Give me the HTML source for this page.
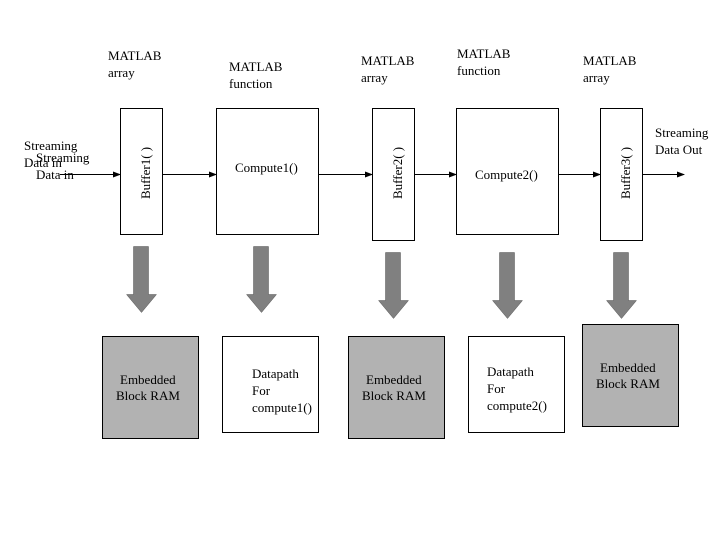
<!DOCTYPE html>
<html><head><style>
body{margin:0;background:#fff}
svg text{font-family:"Liberation Serif",serif;font-size:13px;fill:#000}
</style></head><body>
<svg width="720" height="540" viewBox="0 0 720 540" xmlns="http://www.w3.org/2000/svg">
<defs><marker id="a" markerWidth="8" markerHeight="6" refX="7" refY="3" orient="auto" markerUnits="userSpaceOnUse"><path d="M0,0L8,3L0,6z" fill="#000"/></marker></defs>
<g fill="#fff" stroke="#000" stroke-width="1">
<rect x="120.5" y="108.5" width="42" height="126"/>
<rect x="216.5" y="108.5" width="102" height="126"/>
<rect x="372.5" y="108.5" width="42" height="132"/>
<rect x="456.5" y="108.5" width="102" height="126"/>
<rect x="600.5" y="108.5" width="42" height="132"/>
<rect x="102.5" y="336.5" width="96" height="102" fill="#b2b2b2"/>
<rect x="222.5" y="336.5" width="96" height="96"/>
<rect x="348.5" y="336.5" width="96" height="102" fill="#b2b2b2"/>
<rect x="468.5" y="336.5" width="96" height="96"/>
<rect x="582.5" y="324.5" width="96" height="102" fill="#b2b2b2"/>
</g>
<g stroke="#000" stroke-width="1" marker-end="url(#a)">
<line x1="60" y1="174.5" x2="120" y2="174.5"/>
<line x1="162" y1="174.5" x2="216" y2="174.5"/>
<line x1="318" y1="174.5" x2="372" y2="174.5"/>
<line x1="414" y1="174.5" x2="456" y2="174.5"/>
<line x1="558" y1="174.5" x2="600" y2="174.5"/>
<line x1="642" y1="174.5" x2="684" y2="174.5"/>
</g>
<g fill="#808080" stroke="#555" stroke-width="0.5">
<path d="M133.5,246.5h15v48h8l-15,18l-15,-18h7z"/>
<path d="M253.5,246.5h15v48h8l-15,18l-15,-18h7z"/>
<path d="M385.5,252.5h15v48h8l-15,18l-15,-18h7z"/>
<path d="M499.5,252.5h15v48h8l-15,18l-15,-18h7z"/>
<path d="M613.5,252.5h15v48h8l-15,18l-15,-18h7z"/>
</g>
<text x="108" y="60">MATLAB</text><text x="108" y="77">array</text>
<text x="229" y="71">MATLAB</text><text x="229" y="88">function</text>
<text x="361" y="65">MATLAB</text><text x="361" y="82">array</text>
<text x="457" y="58">MATLAB</text><text x="457" y="75">function</text>
<text x="583" y="65">MATLAB</text><text x="583" y="82">array</text>
<text x="24" y="150">Streaming</text><text x="24" y="167">Data in</text>
<text x="36" y="162">Streaming</text><text x="36" y="179">Data in</text>
<text x="655" y="137">Streaming</text><text x="655" y="154">Data Out</text>
<text x="235" y="172">Compute1()</text>
<text x="475" y="179">Compute2()</text>
<text transform="translate(150,199) rotate(-90)">Buffer1( )</text>
<text transform="translate(402,199) rotate(-90)">Buffer2( )</text>
<text transform="translate(630,199) rotate(-90)">Buffer3( )</text>
<text x="120" y="384">Embedded</text><text x="116" y="400">Block RAM</text>
<text x="366" y="384">Embedded</text><text x="362" y="400">Block RAM</text>
<text x="600" y="372">Embedded</text><text x="596" y="388">Block RAM</text>
<text x="252" y="378">Datapath</text><text x="252" y="395">For</text><text x="252" y="412">compute1()</text>
<text x="487" y="376">Datapath</text><text x="487" y="393">For</text><text x="487" y="410">compute2()</text>
</svg>
</body></html>
